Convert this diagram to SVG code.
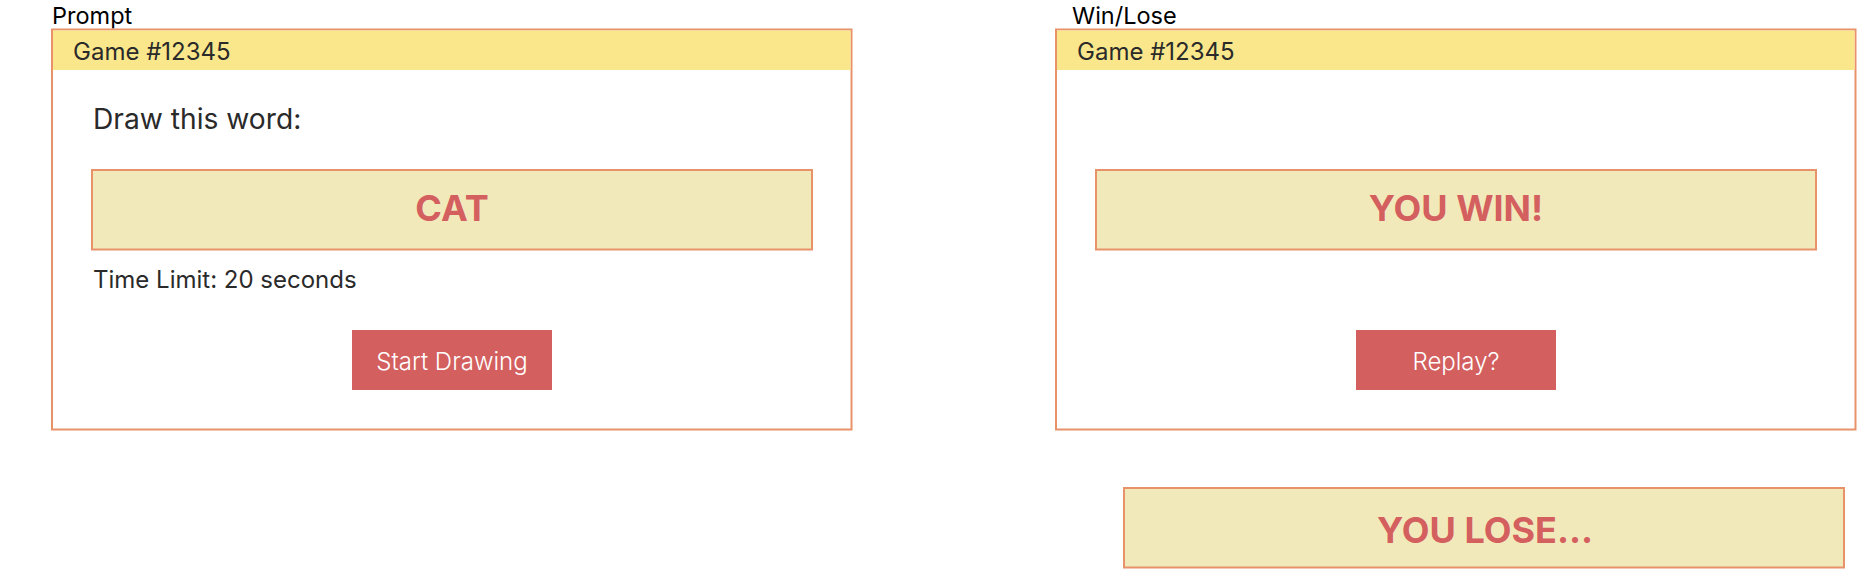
<svg xmlns="http://www.w3.org/2000/svg" width="1857" height="569" viewBox="0 0 1857 569">
<style>
.frame{fill:#ffffff;stroke:#e8926a;stroke-width:2}
.header{fill:#fae78c}
.word{fill:#f2e9bb;stroke:#e8926a;stroke-width:2}
.btn{fill:#d35f5f}
.lbl{font-family:Inter,"Liberation Sans",sans-serif;font-size:23.5px;fill:#000000}
.txt{font-family:Inter,"Liberation Sans",sans-serif;fill:#2a2a2a}
.big{font-family:Inter,"Liberation Sans",sans-serif;font-size:36px;font-weight:700;fill:#d45f5f;text-anchor:middle}
.btxt{font-family:Inter,"Liberation Sans",sans-serif;font-size:24px;font-weight:300;fill:#ffffff;text-anchor:middle}
</style>
<rect width="1857" height="569" fill="#ffffff"/>
<g id="prompt-screen">
  <text class="lbl" x="52" y="24">Prompt</text>
  <rect class="frame" x="52" y="29.5" width="799.5" height="400"/>
  <rect class="header" x="53" y="30.5" width="797.5" height="39.5"/>
  <text class="txt" x="73" y="60" font-size="24">Game #12345</text>
  <text class="txt" x="93" y="129" font-size="28.2">Draw this word:</text>
  <g id="word-cat">
    <rect class="word" x="92" y="170" width="720" height="79.5"/>
    <text class="big" x="452" y="221">CAT</text>
  </g>
  <text class="txt" x="93" y="288" font-size="24">Time Limit: 20 seconds</text>
  <g id="btn-start">
    <rect class="btn" x="352" y="330" width="200" height="60"/>
    <text class="btxt" x="452" y="370" font-size="25">Start Drawing</text>
  </g>
</g>
<g id="winlose-screen">
  <text class="lbl" x="1072" y="24">Win/Lose</text>
  <rect class="frame" x="1056" y="29.5" width="799.5" height="400"/>
  <rect class="header" x="1057" y="30.5" width="797.5" height="39.5"/>
  <text class="txt" x="1077" y="60" font-size="24">Game #12345</text>
  <g id="word-win">
    <rect class="word" x="1096" y="170" width="720" height="79.5"/>
    <text class="big" x="1456" y="221">YOU WIN!</text>
  </g>
  <g id="btn-replay">
    <rect class="btn" x="1356" y="330" width="200" height="60"/>
    <text class="btxt" x="1456" y="370">Replay?</text>
  </g>
</g>
<g id="word-lose">
  <rect class="word" x="1124" y="488" width="720" height="79.5"/>
  <text class="big" x="1485" y="543">YOU LOSE...</text>
</g>
<g id="connectors"></g>
</svg>
